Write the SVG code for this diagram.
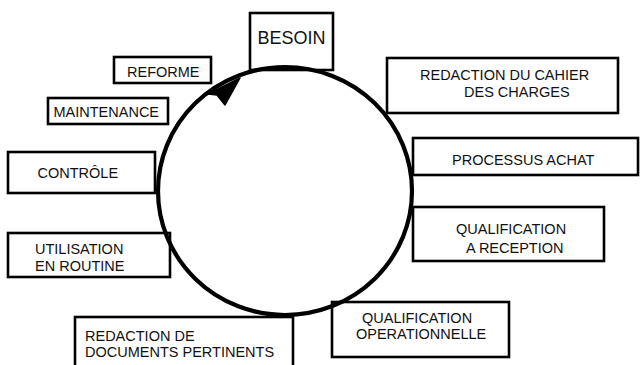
<svg xmlns="http://www.w3.org/2000/svg" width="640" height="365" viewBox="0 0 640 365">
<style>
.box{fill:#fff;stroke:#000;stroke-width:2.6}
.t{font-family:"Liberation Sans",Arial,sans-serif;font-size:14.5px;fill:#111}
.big{font-size:18px}
.c{text-anchor:middle}
</style>
<rect width="640" height="365" fill="#fff"/>
<g id="nodes">
<g id="besoin"><rect class="box" x="250" y="13" width="83" height="57"/><text class="t big c" x="291.5" y="44">BESOIN</text></g>
<g id="reforme"><rect class="box" x="114" y="57" width="97" height="26"/><text class="t" x="127" y="77">REFORME</text></g>
<g id="maintenance"><rect class="box" x="48" y="98" width="120" height="26"/><text class="t" x="53.5" y="116.5">MAINTENANCE</text></g>
<g id="controle"><rect class="box" x="8" y="152" width="147" height="41"/><text class="t" x="37.5" y="178">CONTRÔLE</text></g>
<g id="utilisation"><rect class="box" x="8" y="233" width="162" height="44"/><text class="t" x="35" y="254">UTILISATION</text><text class="t" x="35" y="270.5">EN ROUTINE</text></g>
<g id="redaction-docs"><rect class="box" x="75" y="317" width="218" height="55"/><text class="t" x="85" y="340.5">REDACTION DE</text><text class="t" x="85" y="357">DOCUMENTS PERTINENTS</text></g>
<g id="qualif-op"><rect class="box" x="332" y="302" width="177" height="55"/><text class="t" x="362" y="322.5">QUALIFICATION</text><text class="t" x="356" y="339">OPERATIONNELLE</text></g>
<g id="qualif-rec"><rect class="box" x="413" y="207" width="191" height="54"/><text class="t" x="456" y="234">QUALIFICATION</text><text class="t" x="466" y="253">A  RECEPTION</text></g>
<g id="processus"><rect class="box" x="413" y="138" width="225" height="37"/><text class="t" x="452" y="165">PROCESSUS ACHAT</text></g>
<g id="cahier"><rect class="box" x="387" y="58" width="231" height="55"/><text class="t" x="420" y="80">REDACTION DU CAHIER</text><text class="t" x="464" y="97">DES CHARGES</text></g>
</g>
<g id="connectors">
<ellipse cx="285" cy="191" rx="127" ry="124" fill="none" stroke="#000" stroke-width="4.2"/>
<polygon points="240,78 208,94 217,95 225,105" fill="#000" stroke="#000" stroke-width="1.5" stroke-linejoin="round"/>
</g>
</svg>
